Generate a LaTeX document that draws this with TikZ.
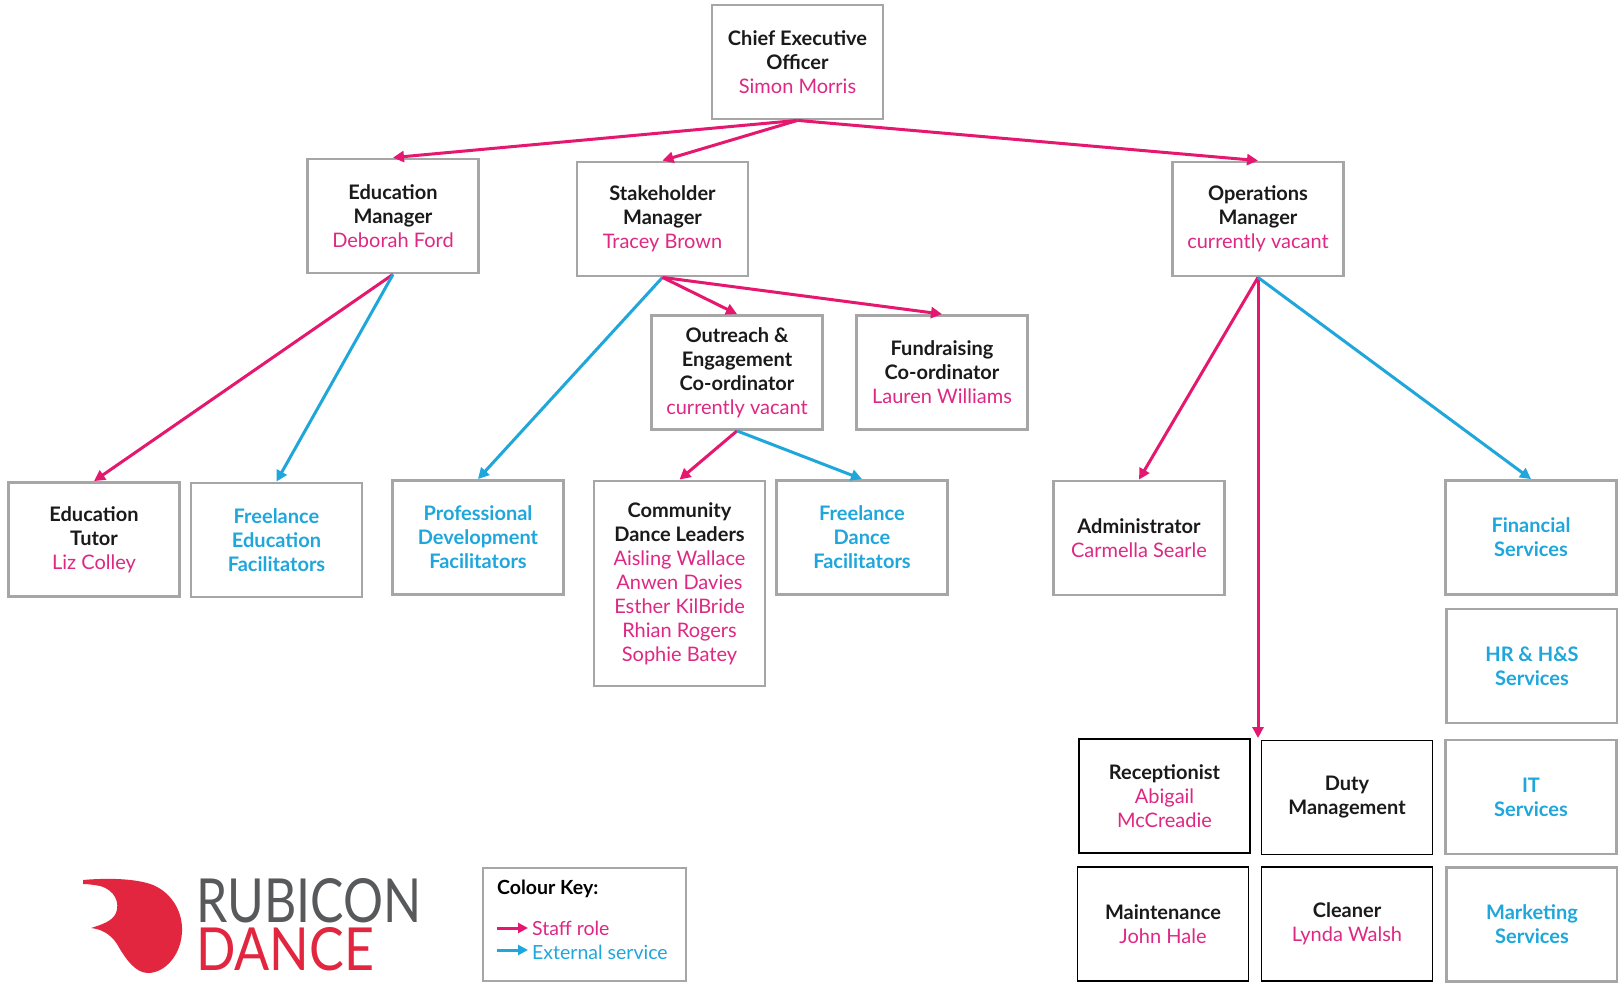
\documentclass[tikz,border=0pt]{standalone}
\usepackage{fontspec}
\setmainfont{Lato}
\usetikzlibrary{arrows.meta}
\definecolor{boxgray}{HTML}{A6A6A6}
\definecolor{pinkline}{HTML}{E5176E}
\definecolor{namepink}{HTML}{DE2883}
\definecolor{extcyan}{HTML}{1FA7DC}
\definecolor{titleblack}{HTML}{1A1A1A}
\definecolor{logored}{HTML}{E3263F}
\definecolor{logogray}{HTML}{58595B}
\tikzset{
  box/.style={draw=boxgray, line width=2.8pt, minimum width=171pt, minimum height=114pt,
    align=center, inner sep=0pt, text=titleblack, font=\fontsize{20}{24}\selectfont},
  bbox/.style={box, draw=black, line width=1.9pt},
  staff/.style={draw=pinkline, line width=3pt, -{Triangle[length=11pt,width=11pt]}},
  ext/.style={draw=extcyan, line width=3pt, -{Triangle[length=11pt,width=11pt]}},
  keyarrow/.style={line width=3pt, -{Triangle[length=10pt,width=10pt]}},
  keytext/.style={anchor=west, inner sep=0pt, font=\fontsize{19.5}{24}\selectfont}
}
\newcommand{\nm}[1]{\textcolor{namepink}{#1}}
\newcommand{\ex}[1]{\textcolor{extcyan}{\bfseries #1}}
\begin{document}
\begin{tikzpicture}[x=1pt,y=-1pt]
\useasboundingbox (0,0) rectangle (1618,984);
\fill[white] (0,0) rectangle (1618,984);

% boxes
\node[box] (ceo) at (797.5,62) {\bfseries Chief Executive\\\bfseries Officer\\\nm{Simon Morris}};
\node[box] (edm) at (393,216) {\bfseries Education\\\bfseries Manager\\\nm{Deborah Ford}};
\node[box] (stk) at (662.5,219) {\bfseries Stakeholder\\\bfseries Manager\\\nm{Tracey Brown}};
\node[box] (ops) at (1258,219) {\bfseries Operations\\\bfseries Manager\\\nm{currently vacant}};
\node[box] (out) at (737,372.5) {\bfseries Outreach \&\\\bfseries Engagement\\\bfseries Co-ordinator\\\nm{currently vacant}};
\node[box] (fund) at (942,372.5) {\bfseries Fundraising\\\bfseries Co-ordinator\\\nm{Lauren Williams}};
\node[box] (edt) at (94,539.5) {\bfseries Education\\\bfseries Tutor\\\nm{Liz Colley}};
\node[box] (fed) at (276.5,540) {\ex{Freelance}\\\ex{Education}\\\ex{Facilitators}};
\node[box] (pdf) at (478,537.5) {\ex{Professional}\\\ex{Development}\\\ex{Facilitators}};
\node[box, minimum height=205pt] (cdl) at (679.5,583.5) {\bfseries Community\\\bfseries Dance Leaders\\\nm{Aisling Wallace}\\\nm{Anwen Davies}\\\nm{Esther KilBride}\\\nm{Rhian Rogers}\\\nm{Sophie Batey}};
\node[box] (fdf) at (862,537.5) {\ex{Freelance}\\\ex{Dance}\\\ex{Facilitators}};
\node[box] (adm) at (1139,538) {\bfseries Administrator\\\nm{Carmella Searle}};
\node[box] (fin) at (1531,537.5) {\ex{Financial}\\\ex{Services}};
\node[box] (hr) at (1532,666) {\ex{HR \& H\&S}\\\ex{Services}};
\node[box] (it) at (1531,797) {\ex{IT}\\\ex{Services}};
\node[box] (mkt) at (1532,924.5) {\ex{Marketing}\\\ex{Services}};
\node[bbox] (rec) at (1164.5,796) {\bfseries Receptionist\\\nm{Abigail}\\\nm{McCreadie}};
\node[bbox] (duty) at (1347,797.5) {\bfseries Duty\\\bfseries Management};
\node[bbox] (mnt) at (1163,924) {\bfseries Maintenance\\\nm{John Hale}};
\node[bbox] (cln) at (1347,924) {\bfseries Cleaner\\\nm{Lynda Walsh}};

% connectors
\draw[staff] (ceo.south) -- (edm.north);
\draw[staff] (ceo.south) -- (stk.north);
\draw[staff] (ceo.south) -- (ops.north);
\draw[staff] (edm.south) -- (edt.north);
\draw[ext]   (edm.south) -- (fed.north);
\draw[ext]   (stk.south) -- (pdf.north);
\draw[staff] (stk.south) -- (out.north);
\draw[staff] (stk.south) -- (fund.north);
\draw[staff] (out.south) -- (cdl.north);
\draw[ext]   (out.south) -- (fdf.north);
\draw[staff] (ops.south) -- (adm.north);
\draw[staff] (ops.south) -- (ops.south |- rec.north);
\draw[ext]   (ops.south) -- (fin.north);

% colour key
\node[box, minimum width=203pt, minimum height=113pt] (key) at (584.5,924.5) {};
\node[keytext, font=\fontsize{19.5}{24}\selectfont\bfseries] (keyt) at (497,889) {Colour Key:};
\coordinate (ks1) at (497,928);
\coordinate (ke1) at (528,928);
\coordinate (ks2) at (497,950);
\coordinate (ke2) at (528,950);
\draw[keyarrow, draw=pinkline, fill=pinkline] (ks1) -- (ke1);
\draw[keyarrow, draw=extcyan, fill=extcyan] (ks2) -- (ke2);
\node[keytext, text=namepink] (kl1) at (532,928) {Staff role};
\node[keytext, text=extcyan] (kl2) at (532,952) {External service};

% logo
\fill[logored] (83,880) .. controls (105,878) and (135,878) .. (153,885)
  .. controls (172,893) and (183,912) .. (182,932)
  .. controls (181,955) and (165,973) .. (148,973)
  .. controls (135,973) and (125,958) .. (117,944)
  .. controls (110,933) and (100,929) .. (91,928)
  .. controls (100,925) and (112,922) .. (116,913)
  .. controls (120,903) and (115,890) .. (100,886)
  .. controls (95,885) and (88,884) .. (83,884) -- cycle;
\node[anchor=north west, inner sep=0pt, align=left] (word) at (196,878)
  {\textcolor{logogray}{\resizebox{225pt}{44pt}{RUBICON}}\\[4pt]\textcolor{logored}{\resizebox{178pt}{43pt}{DANCE}}};
\end{tikzpicture}
\end{document}
